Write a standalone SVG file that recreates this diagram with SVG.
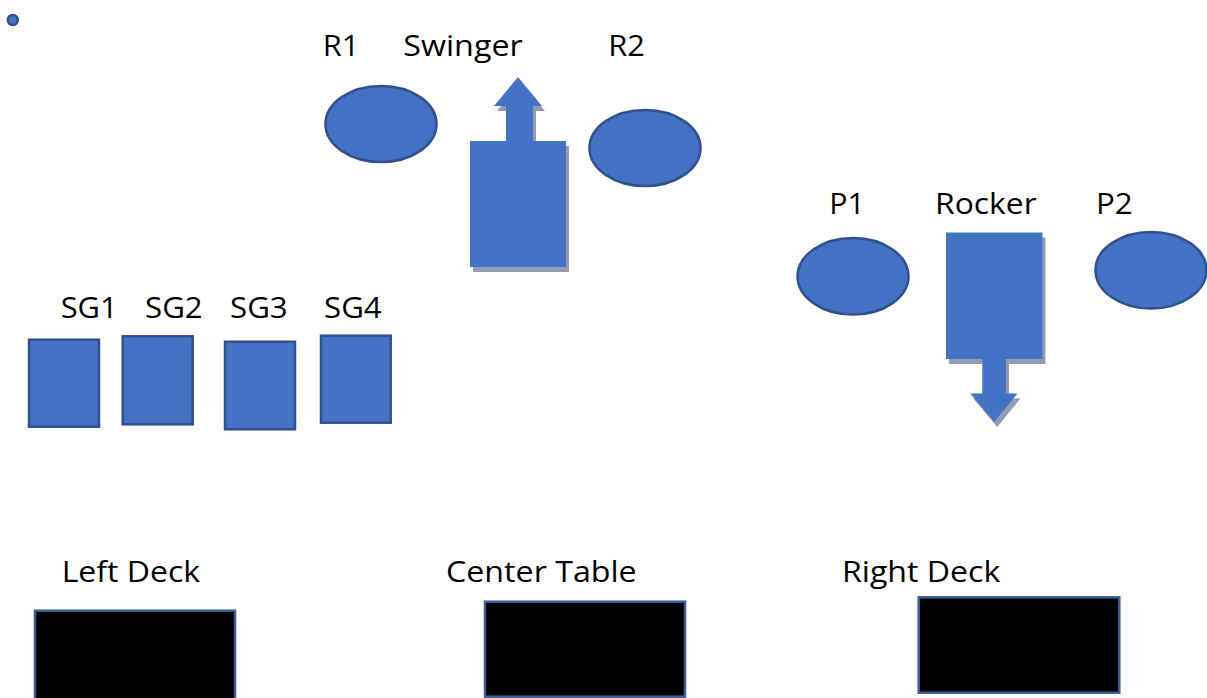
<svg xmlns="http://www.w3.org/2000/svg" width="1207" height="698" viewBox="0 0 1207 698">
  <style>
    .lbl { font-family: "Open Sans", "Liberation Sans", sans-serif; font-size: 30px; fill: #000; }
    .blue { fill: #4472C4; stroke: #2F528F; stroke-width: 2.5; }
    .solid { fill: #4472C4; stroke: none; }
    .shadow { fill: #929DB5; stroke: none; }
    .table { fill: #000; stroke: #3E5E99; stroke-width: 2.5; }
  </style>
  <rect width="1207" height="698" fill="#fff"/>
  <g id="dot"><circle cx="12.8" cy="20" r="5" class="blue" stroke-width="1.5"/></g>

  <g id="r1">
    <ellipse cx="381" cy="124" rx="55.5" ry="38" class="blue"/>
    <text class="lbl" x="322.7" y="55.7" textLength="36.6" lengthAdjust="spacingAndGlyphs">R1</text>
  </g>
  <g id="swinger">
    <path class="shadow" transform="translate(3,5)" d="M470,141 H506 V106 H494 L518,77 L542,106 H533 V141 H566 V267 H470 Z"/>
    <path class="solid" d="M470,141 H506 V106 H494 L518,77 L542,106 H533 V141 H566 V267 H470 Z"/>
    <text class="lbl" x="403.3" y="55.7" textLength="119.4" lengthAdjust="spacingAndGlyphs">Swinger</text>
  </g>
  <g id="r2">
    <ellipse cx="645" cy="148" rx="55.5" ry="38" class="blue"/>
    <text class="lbl" x="608.3" y="55.7" textLength="36.7" lengthAdjust="spacingAndGlyphs">R2</text>
  </g>

  <g id="p1">
    <ellipse cx="853" cy="276.3" rx="55.5" ry="38.3" class="blue"/>
    <text class="lbl" x="829.3" y="214" textLength="35.7" lengthAdjust="spacingAndGlyphs">P1</text>
  </g>
  <g id="rocker">
    <path class="shadow" transform="translate(3,5)" d="M946,232.5 H1042.5 V359 H1006 V393.5 H1017.5 L994.3,422 L970.3,393.5 H982.3 V359 H946 Z"/>
    <path class="solid" d="M946,232.5 H1042.5 V359 H1006 V393.5 H1017.5 L994.3,422 L970.3,393.5 H982.3 V359 H946 Z"/>
    <text class="lbl" x="935" y="214" textLength="101.7" lengthAdjust="spacingAndGlyphs">Rocker</text>
  </g>
  <g id="p2">
    <ellipse cx="1151" cy="270.2" rx="55.5" ry="38.3" class="blue"/>
    <text class="lbl" x="1096" y="214" textLength="36.7" lengthAdjust="spacingAndGlyphs">P2</text>
  </g>

  <g id="sg1">
    <rect x="29" y="339.7" width="70" height="87" class="blue"/>
    <text class="lbl" x="60.7" y="318" textLength="57" lengthAdjust="spacingAndGlyphs">SG1</text>
  </g>
  <g id="sg2">
    <rect x="122.7" y="336.3" width="70" height="88" class="blue"/>
    <text class="lbl" x="145" y="318" textLength="57.7" lengthAdjust="spacingAndGlyphs">SG2</text>
  </g>
  <g id="sg3">
    <rect x="225" y="341.7" width="70" height="87.6" class="blue"/>
    <text class="lbl" x="230" y="318" textLength="57.7" lengthAdjust="spacingAndGlyphs">SG3</text>
  </g>
  <g id="sg4">
    <rect x="321" y="335.7" width="69.7" height="87" class="blue"/>
    <text class="lbl" x="324" y="318" textLength="57.7" lengthAdjust="spacingAndGlyphs">SG4</text>
  </g>

  <g id="left-deck">
    <rect x="35" y="610.7" width="200" height="95" class="table"/>
    <text class="lbl" x="61.7" y="581.7" textLength="138.3" lengthAdjust="spacingAndGlyphs">Left Deck</text>
  </g>
  <g id="center-table">
    <rect x="485" y="601.7" width="200" height="95" class="table"/>
    <text class="lbl" x="446" y="581.7" textLength="190.7" lengthAdjust="spacingAndGlyphs">Center Table</text>
  </g>
  <g id="right-deck">
    <rect x="918.7" y="597.3" width="200.6" height="95.4" class="table"/>
    <text class="lbl" x="842" y="581.7" textLength="158.3" lengthAdjust="spacingAndGlyphs">Right Deck</text>
  </g>

  <g id="connectors"></g>
</svg>
